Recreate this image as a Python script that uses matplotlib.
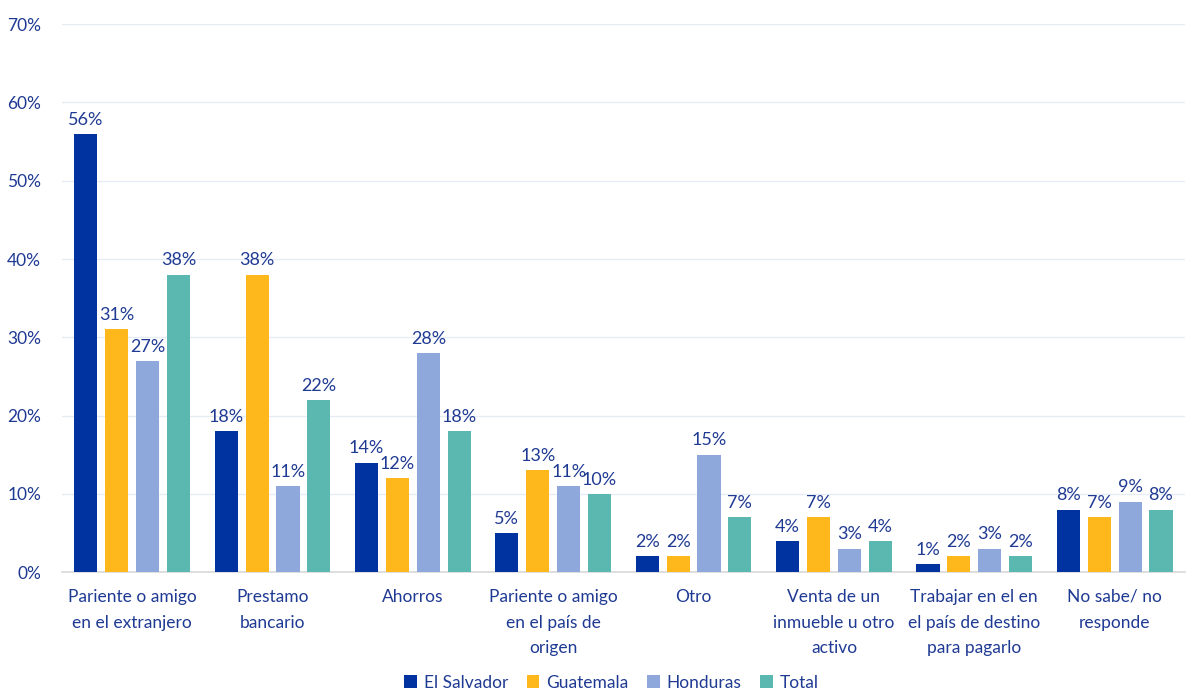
import matplotlib
matplotlib.use("Agg")
import matplotlib.pyplot as plt
import numpy as np

categories = ["Pariente o amigo\nen el extranjero", "Prestamo\nbancario", "Ahorros",
              "Pariente o amigo\nen el país de\norigen", "Otro",
              "Venta de un\ninmueble u otro\nactivo", "Trabajar en el en\nel país de destino\npara pagarlo",
              "No sabe/ no\nresponde"]
series_names = ["El Salvador", "Guatemala", "Honduras", "Total"]
el_salvador = [56, 18, 14, 5, 2, 4, 1, 8]
guatemala = [31, 38, 12, 13, 2, 7, 2, 7]
honduras = [27, 11, 28, 11, 15, 3, 3, 9]
total = [38, 22, 18, 10, 7, 4, 2, 8]
yticks = [0, 10, 20, 30, 40, 50, 60, 70]

colors = ["#0033A0", "#FFB81C", "#8FA8DB", "#5BB8B0"]
text_color = "#1F3A93"

plt.rcParams['font.family'] = ['Lato', 'DejaVu Sans']

fig = plt.figure(figsize=(11.92, 6.91), dpi=100)
ax = fig.add_axes([0.052, 0.172, 0.942, 0.793])

x = np.arange(len(categories))
step = 0.22
width = 0.165
data = [el_salvador, guatemala, honduras, total]
for i, (vals, c, name) in enumerate(zip(data, colors, series_names)):
    pos = x + (i - 1.5) * step
    ax.bar(pos, vals, width, color=c, label=name, zorder=3)
    for p, v in zip(pos, vals):
        ax.text(p, v + 0.8, f"{v}%", ha="center", va="bottom", fontsize=13,
                color=text_color)

ax.set_xlim(-0.5, len(categories) - 0.5)
ax.set_ylim(0, 70)
ax.set_yticks(yticks)
ax.set_yticklabels([f"{t}%" for t in yticks], fontsize=12.5, color=text_color)
ax.yaxis.grid(True, color="#E6ECF5", linewidth=1, zorder=0)
ax.set_axisbelow(True)
for s in ["top", "right", "left"]:
    ax.spines[s].set_visible(False)
ax.spines["bottom"].set_color("#D9D9D9")
ax.spines["bottom"].set_linewidth(1.2)
ax.tick_params(axis="y", length=0, pad=15)
ax.tick_params(axis="x", length=0, pad=12)
ax.set_xticks(x)
ax.set_xticklabels(categories, fontsize=12.5, color=text_color, linespacing=1.75)

leg = fig.legend(loc="lower center", bbox_to_anchor=(0.513, -0.022), ncol=4, frameon=False,
                 fontsize=12.5, handlelength=0.7, handleheight=0.7, handletextpad=0.4,
                 columnspacing=1.1)
for t in leg.get_texts():
    t.set_color(text_color)

fig.savefig("out.png", dpi=100)
